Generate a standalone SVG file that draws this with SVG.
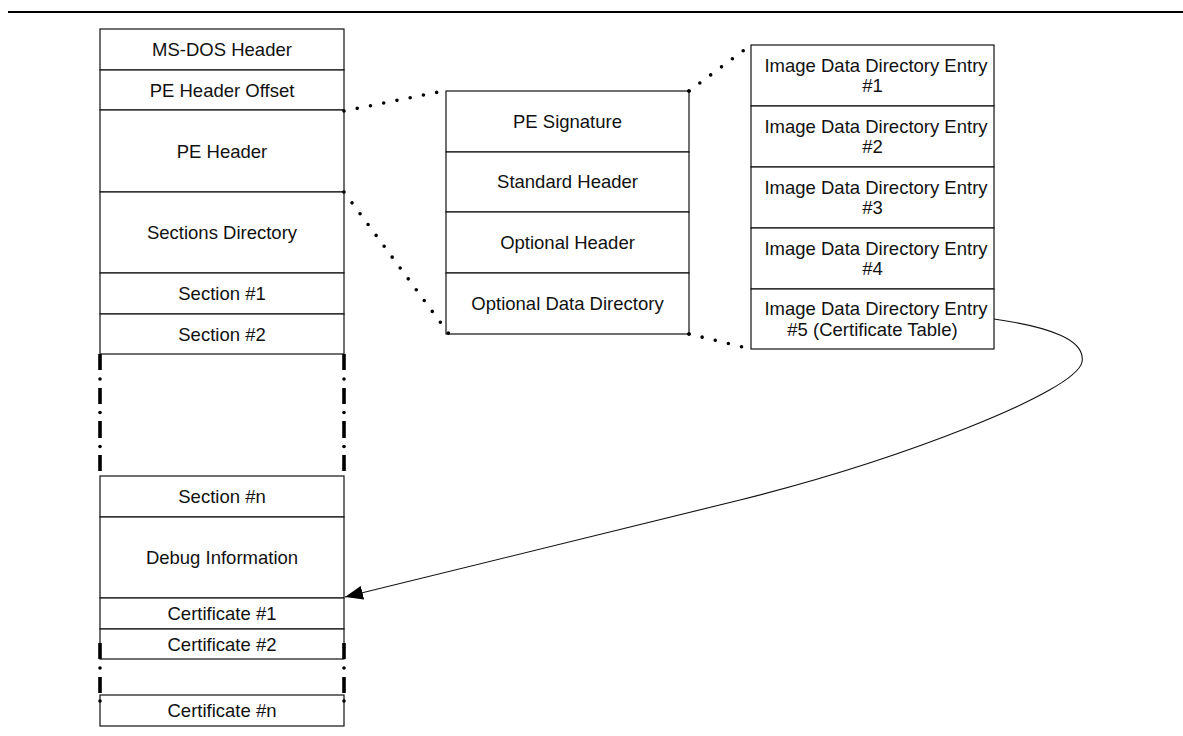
<svg xmlns="http://www.w3.org/2000/svg" width="1183" height="736" viewBox="0 0 1183 736">
<style>
  .box{fill:#fff;stroke:#111;stroke-width:1.2}
  .t{font-family:"Liberation Sans",Arial,sans-serif;font-size:18.5px;fill:#111;text-anchor:middle}
  .dots{fill:none;stroke:#000;stroke-width:3.6;stroke-linecap:round;stroke-dasharray:0 13.5}
  .thick{stroke:#000;stroke-width:3.6}
  .dot{fill:#000}
  .conn{fill:none;stroke:#111;stroke-width:1.1}
</style>
<defs>
  <marker id="arr" viewBox="0 0 18 14" refX="18" refY="7" markerWidth="18" markerHeight="14" markerUnits="userSpaceOnUse" orient="auto">
    <path d="M0,0 L18,7 L0,14 Z" fill="#000"/>
  </marker>
</defs>
<rect width="1183" height="736" fill="#fff"/>
<line x1="8" y1="12" x2="1183" y2="12" stroke="#000" stroke-width="2.2"/>

<g id="left-column">
  <g id="ms-dos-header"><rect class="box" x="100" y="29" width="244" height="41"/><text class="t" x="222" y="56">MS-DOS Header</text></g>
  <g id="pe-header-offset"><rect class="box" x="100" y="70" width="244" height="40"/><text class="t" x="222" y="96.5">PE Header Offset</text></g>
  <g id="pe-header"><rect class="box" x="100" y="110" width="244" height="82"/><text class="t" x="222" y="157.5">PE Header</text></g>
  <g id="sections-directory"><rect class="box" x="100" y="192" width="244" height="81"/><text class="t" x="222" y="239">Sections Directory</text></g>
  <g id="section-1"><rect class="box" x="100" y="273" width="244" height="41"/><text class="t" x="222" y="300">Section #1</text></g>
  <g id="section-2"><rect class="box" x="100" y="314" width="244" height="40"/><text class="t" x="222" y="340.5">Section #2</text></g>
  <g id="section-gap">
    <path class="thick" d="M100,354 V370 M100,388 V404 M100,421 V438 M100,455 V471 M344,354 V370 M344,388 V404 M344,421 V438 M344,455 V471"/>
    <circle class="dot" cx="100" cy="379" r="1.8"/><circle class="dot" cx="100" cy="412.5" r="1.8"/><circle class="dot" cx="100" cy="446.5" r="1.8"/>
    <circle class="dot" cx="344" cy="379" r="1.8"/><circle class="dot" cx="344" cy="412.5" r="1.8"/><circle class="dot" cx="344" cy="446.5" r="1.8"/>
  </g>
  <g id="section-n"><rect class="box" x="100" y="476" width="244" height="41"/><text class="t" x="222" y="503">Section #n</text></g>
  <g id="debug-information"><rect class="box" x="100" y="517" width="244" height="81"/><text class="t" x="222" y="564">Debug Information</text></g>
  <g id="certificate-1"><rect class="box" x="100" y="598" width="244" height="31"/><text class="t" x="222" y="620">Certificate #1</text></g>
  <g id="certificate-2"><rect class="box" x="100" y="629" width="244" height="30"/><text class="t" x="222" y="650.5">Certificate #2</text></g>
  <g id="certificate-n"><rect class="box" x="100" y="695" width="244" height="31"/><text class="t" x="222" y="717">Certificate #n</text></g>
  <g id="certificate-gap">
    <path class="thick" d="M100,643 V659 M100,677 V693 M344,643 V659 M344,677 V693"/>
    <circle class="dot" cx="100" cy="668" r="1.8"/><circle class="dot" cx="344" cy="668" r="1.8"/>
    <circle class="dot" cx="100" cy="701" r="1.8"/><circle class="dot" cx="344" cy="701" r="1.8"/>
  </g>
</g>

<g id="pe-header-detail">
  <g id="pe-signature"><rect class="box" x="446" y="91" width="243" height="61"/><text class="t" x="567.5" y="127.5">PE Signature</text></g>
  <g id="standard-header"><rect class="box" x="446" y="152" width="243" height="60"/><text class="t" x="567.5" y="188">Standard Header</text></g>
  <g id="optional-header"><rect class="box" x="446" y="212" width="243" height="61"/><text class="t" x="567.5" y="248.5">Optional Header</text></g>
  <g id="optional-data-directory"><rect class="box" x="446" y="273" width="243" height="61"/><text class="t" x="567.5" y="309.5">Optional Data Directory</text></g>
</g>

<g id="data-directory-detail">
  <g id="entry-1"><rect class="box" x="751" y="45" width="243" height="61"/><text class="t" x="876" y="71.5">Image Data Directory Entry</text><text class="t" x="872.5" y="92">#1</text></g>
  <g id="entry-2"><rect class="box" x="751" y="106" width="243" height="61"/><text class="t" x="876" y="132.5">Image Data Directory Entry</text><text class="t" x="872.5" y="153">#2</text></g>
  <g id="entry-3"><rect class="box" x="751" y="167" width="243" height="61"/><text class="t" x="876" y="193.5">Image Data Directory Entry</text><text class="t" x="872.5" y="214">#3</text></g>
  <g id="entry-4"><rect class="box" x="751" y="228" width="243" height="61"/><text class="t" x="876" y="254.5">Image Data Directory Entry</text><text class="t" x="872.5" y="275">#4</text></g>
  <g id="entry-5"><rect class="box" x="751" y="289" width="243" height="60"/><text class="t" x="876" y="315">Image Data Directory Entry</text><text class="t" x="872.5" y="335.5">#5 (Certificate Table)</text></g>
</g>

<g id="connectors">
  <path class="dots" d="M344,111 L446,90.5"/>
  <path class="dots" d="M344,192 L449,334"/>
  <path class="dots" d="M689,91 L751,45"/>
  <path class="dots" d="M689,334 L751,349"/>
  <circle class="dot" cx="689" cy="91" r="1.8"/>
  <circle class="dot" cx="689" cy="334" r="1.8"/>
  <path class="conn" marker-end="url(#arr)" d="M994,319 C1050,327 1086,340 1082,362 C1076,392 900,460 740,500 L345,597"/>
</g>
</svg>
